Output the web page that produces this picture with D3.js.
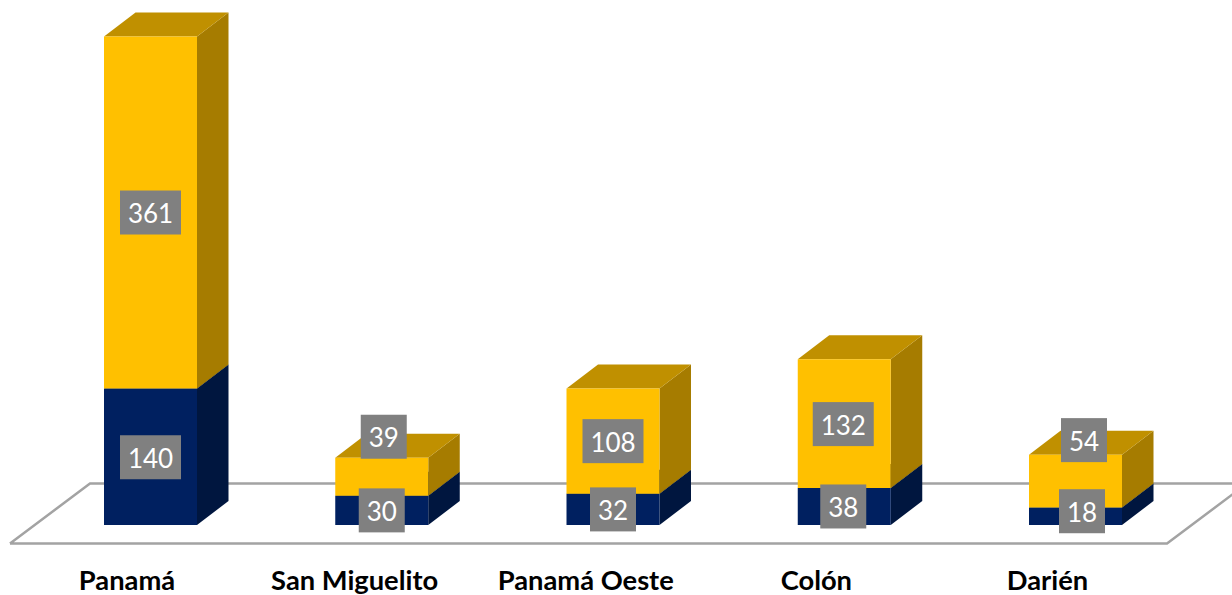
<!DOCTYPE html>
<html><head><meta charset="utf-8">
<style>html,body{margin:0;padding:0;background:#fff;overflow:hidden}svg{display:block}</style>
<script src="https://cdn.jsdelivr.net/npm/d3@7"></script>
</head><body><svg id="c" width="1232" height="595"></svg>
<script>
const categories = ["Panamá","San Miguelito","Panamá Oeste","Colón","Darién"];
const blueValues = [140,30,32,38,18];
const yellowValues = [361,39,108,132,54];
// label-box nudges relative to the segment centre, as placed in the reference
const blueNudge = [[0,0.5],[0,0],[0,0],[-1,0],[6.5,-5]];
const yellowNudge = [[0,0],[2,-40],[0,0],[-1,0.5],[8.5,-41]];
const axisNudge = [0,-2.5,-1.5,-1,0];

const svg = d3.select("#c");
const x = d3.scalePoint().domain(categories).range([150.5,1075.5]);
const xLab = d3.scalePoint().domain(categories).range([127,1047.5]);
const y = d3.scaleLinear().domain([0,500]).range([525,37.5]);
const W = 46.5, DX = 31.5, DY = 24;

svg.append("path").attr("d","M10,543.5L90,483.5L1260,483.5M10,543.5L1167,543.5L1247,483.5")
  .attr("fill","none").attr("stroke","#a3a3a3").attr("stroke-width",2.5);

const poly = (g,pts,fill)=>g.append("polygon").attr("points",pts.map(p=>p.join(",")).join(" ")).attr("fill",fill);
function box(g,cx,v0,v1,front,top,side){
  const l=cx-W,r=cx+W,a=y(v0),b=y(v1);
  poly(g,[[r,a],[r+DX,a-DY],[r+DX,b-DY],[r,b]],side);
  poly(g,[[l,b],[r,b],[r+DX,b-DY],[l+DX,b-DY]],top);
  poly(g,[[l,a],[r,a],[r,b],[l,b]],front);
}
categories.forEach((c,i)=>{
  const g=svg.append("g").attr("class","bar");
  const b=blueValues[i], t=b+yellowValues[i];
  box(g,x(c),0,b,"#002060","#001a4d","#00163f");
  box(g,x(c),b,t,"#FFC000","#C09000","#A67C00");
});

function label(cx,cy,v){
  const s=String(v), w=s.length===3?61:46, h=44;
  const g=svg.append("g").attr("class","lab");
  g.append("rect").attr("x",cx-w/2).attr("y",cy-h/2).attr("width",w).attr("height",h).attr("fill","#808080");
  g.append("text").attr("x",cx).attr("y",cy+10.5).attr("text-anchor","middle")
    .attr("font-family","Lato").attr("font-size",26).attr("fill","#fff").text(s);
}
categories.forEach((c,i)=>{
  const b=blueValues[i], t=b+yellowValues[i];
  label(x(c)+blueNudge[i][0],(y(0)+y(b))/2+blueNudge[i][1],b);
  label(x(c)+yellowNudge[i][0],(y(b)+y(t))/2+yellowNudge[i][1],yellowValues[i]);
  svg.append("text").attr("x",xLab(c)+axisNudge[i]).attr("y",590).attr("text-anchor","middle")
    .attr("font-family","Lato").attr("font-weight",700).attr("font-size",27.3).attr("fill","#000").text(c);
});
</script></body></html>
